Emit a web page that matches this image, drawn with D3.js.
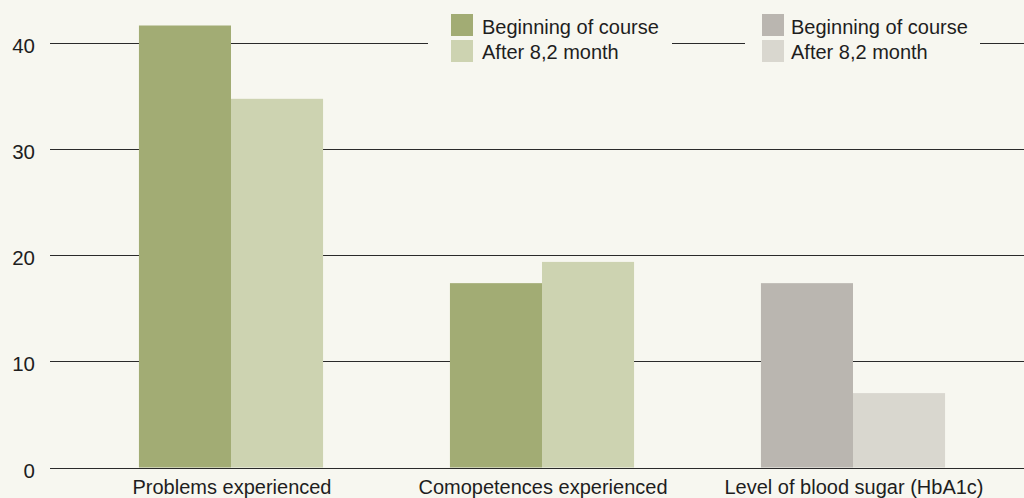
<!DOCTYPE html>
<html lang="en">
<head>
  <meta charset="UTF-8">
  <title>Course results</title>
  <style>
  body { margin: 0; background: #f7f7f0; }
  svg { display: block; font-family: "Liberation Sans", Arial, sans-serif; }
  .grid line { stroke: #2a2a2a; stroke-width: 1px; }
  text { fill: #1e1e1e; }
  </style>
</head>
<body>
  <script src="https://d3js.org/d3.v7.min.js"></script>
  <script>
const categories = ["Problems experienced", "Comopetences experienced", "Level of blood sugar (HbA1c)"]
const series = ["Beginning of course", "After 8,2 month"]
const beginning = [41.6, 17.35, 17.35]
const after = [34.7, 19.35, 7.0]
const yTicks = [0, 10, 20, 30, 40]

// greens for the first two groups, greys for the blood sugar group
const greens = ["#a2ac74", "#cdd3b1"]
const greys = ["#bab6b0", "#d9d7cf"]
const palette = [greens, greens, greys]

const width = 1024, height = 498
const margin = {top: 0, right: 0, bottom: 31, left: 50}

const svg = d3.select("body").append("svg")
  .attr("width", width)
  .attr("height", height)

const y = d3.scaleLinear()
  .domain([0, 40])
  .range([467.5, 42.5])

const x0 = d3.scaleBand()
  .domain(categories)
  .range([margin.left, 1034])
  .paddingInner(0.408)
  .paddingOuter(0.286)

const x1 = d3.scaleBand()
  .domain(series)
  .range([0, x0.bandwidth()])

// gridlines
svg.append("g").attr("class", "grid")
  .selectAll("line")
  .data(yTicks)
  .join("line")
    .attr("x1", margin.left)
    .attr("x2", width)
    .attr("y1", d => Math.round(y(d)) + 0.5)
    .attr("y2", d => Math.round(y(d)) + 0.5)

// y labels
svg.append("g")
  .selectAll("text")
  .data(yTicks)
  .join("text")
    .attr("x", 35)
    .attr("y", d => y(d) + 10)
    .attr("text-anchor", "end")
    .style("font-size", "20.5px")
    .text(d => d)

const rows = categories.map((c, i) => ({cat: i, values: [beginning[i], after[i]]}))

svg.append("g")
  .selectAll("g")
  .data(rows)
  .join("g")
    .attr("transform", d => `translate(${x0(categories[d.cat])},0)`)
  .selectAll("rect")
  .data(d => d.values.map((v, j) => ({cat: d.cat, s: j, v: v})))
  .join("rect")
    .attr("x", d => x1(series[d.s]))
    .attr("width", x1.bandwidth())
    .attr("y", d => y(d.v))
    .attr("height", d => y(0) - y(d.v))
    .attr("fill", d => palette[d.cat][d.s])

// category labels
svg.append("g")
  .selectAll("text")
  .data(categories)
  .join("text")
    .attr("x", d => x0(d) + x0.bandwidth() / 2 + 1)
    .attr("y", 494)
    .attr("text-anchor", "middle")
    .style("font-size", "20px")
    .text(d => d)

// legends: one for green groups, one for grey group
const legends = [{x: 428, w: 244, sq: 23, tx: 54, colors: greens}, {x: 745, w: 235, sq: 17, tx: 46, colors: greys}]
const lg = svg.append("g")
  .selectAll("g")
  .data(legends)
  .join("g")
    .attr("transform", d => `translate(${d.x},0)`)

lg.append("rect")
  .attr("y", 10)
  .attr("height", 58)
  .attr("width", d => d.w)
  .attr("fill", "#f7f7f0")

lg.each(function(d) {
  const g = d3.select(this)
  series.forEach((s, j) => {
    g.append("rect")
      .attr("x", d.sq)
      .attr("y", 14 + j * 26)
      .attr("width", 22)
      .attr("height", 22)
      .attr("fill", d.colors[j])
    g.append("text")
      .attr("x", d.tx)
      .attr("y", 34 + j * 25)
      .style("font-size", "20px")
      .text(s)
  })
})
  </script>
</body>
</html>
